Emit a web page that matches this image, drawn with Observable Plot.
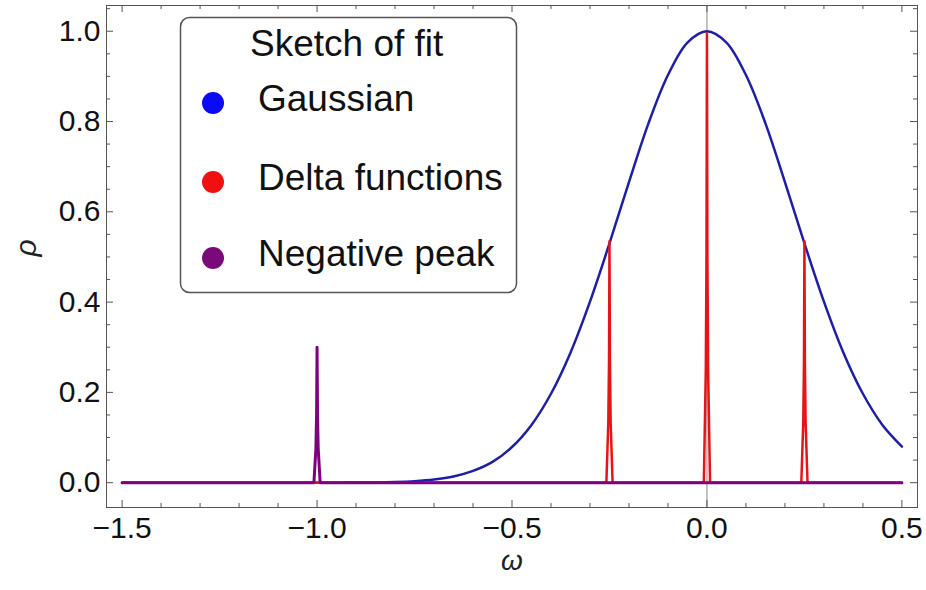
<!DOCTYPE html>
<html><head><meta charset="utf-8">
<script src="https://cdn.jsdelivr.net/npm/d3@7"></script>
<script src="https://cdn.jsdelivr.net/npm/@observablehq/plot@0.6"></script>
<style>
body{margin:0;background:#fff;}
#wrap{position:relative;width:926px;height:590px;}
#wrap svg{position:absolute;left:0;top:0;}
</style></head>
<body><div id="wrap"></div>
<script>
// ---- data ----
const gaussX = [-1.5,-1.45,-1.4,-1.35,-1.3,-1.25,-1.2,-1.15,-1.1,-1.05,-1.0,-0.95,-0.9,-0.85,-0.8,-0.75,-0.7,-0.65,-0.6,-0.55,-0.5,-0.45,-0.4,-0.35,-0.3,-0.25,-0.2,-0.15,-0.1,-0.05,0,0.05,0.1,0.15,0.2,0.25,0.3,0.35,0.4,0.45,0.5];
const gaussY = [0,0,0,0,0,0,0,0,0,0,0,0.0001,0.0003,0.0006,0.0015,0.0033,0.0069,0.0137,0.026,0.046,0.079,0.128,0.197,0.288,0.401,0.530,0.666,0.796,0.903,0.975,1.0,0.975,0.903,0.796,0.666,0.530,0.401,0.288,0.197,0.128,0.080];
const deltaCenters = [-0.25, 0, 0.25];
const deltaHeights = [0.535, 0.995, 0.535];
const negCenters = [-1.0];
const negHeights = [0.30];
const peakOffsets = [-0.008, -0.003, -0.0012, 0, 0.0012, 0.003, 0.008];
const peakFractions = [0, 0.25, 0.5, 1, 0.5, 0.25, 0];
const rangeX = [-1.5, 0.5];
const xMajor = [-1.5, -1.0, -0.5, 0.0, 0.5];
const xMinor = [-1.4,-1.3,-1.2,-1.1,-0.9,-0.8,-0.7,-0.6,-0.4,-0.3,-0.2,-0.1,0.1,0.2,0.3,0.4];
const yMajor = [0, 0.2, 0.4, 0.6, 0.8, 1.0];
const yMinor = [0.05,0.1,0.15,0.25,0.3,0.35,0.45,0.5,0.55,0.65,0.7,0.75,0.85,0.9,0.95,1.05];
const legendTitle = "Sketch of fit";
const legendLabels = ["Gaussian", "Delta functions", "Negative peak"];
const legendColors = ["#0a0af5", "#f01010", "#7a0a7a"];

// ---- build tables ----
const gauss = gaussX.map((x, i) => ({x, y: gaussY[i]}));
function spikes(centers, heights) {
  const pts = [{x: rangeX[0], y: 0}];
  centers.forEach((c, k) => peakOffsets.forEach((o, j) => pts.push({x: c + o, y: heights[k] * peakFractions[j]})));
  pts.push({x: rangeX[1], y: 0});
  return pts;
}
const red = spikes(deltaCenters, deltaHeights);
const purple = spikes(negCenters, negHeights);

const W = 926, H = 590, mL = 106, mR = 9, mT = 5, mB = 83;
const innerW = W - mL - mR, innerH = H - mT - mB;
const font = "'Liberation Sans', Arial, sans-serif";
const fmt = d3.format(".1f");
const tickColor = "#555";

const plot = Plot.plot({
  width: W, height: H,
  marginLeft: mL, marginRight: mR, marginTop: mT, marginBottom: mB,
  style: {fontFamily: font, background: "#fff"},
  x: {domain: [-1.54, 0.54], axis: null},
  y: {domain: [-0.055, 1.057], axis: null},
  marks: [
    Plot.ruleX([0], {stroke: "#8a8a8a", strokeWidth: 1}),
    // ticks (inward, on all four sides)
    Plot.ruleX(xMajor, {x: d => d, stroke: tickColor, insetTop: innerH - 7}),
    Plot.ruleX(xMajor, {x: d => d, stroke: tickColor, insetBottom: innerH - 7}),
    Plot.ruleX(xMinor, {x: d => d, stroke: tickColor, insetTop: innerH - 4}),
    Plot.ruleX(xMinor, {x: d => d, stroke: tickColor, insetBottom: innerH - 4}),
    Plot.ruleY(yMajor, {y: d => d, stroke: tickColor, insetRight: innerW - 7}),
    Plot.ruleY(yMajor, {y: d => d, stroke: tickColor, insetLeft: innerW - 7}),
    Plot.ruleY(yMinor, {y: d => d, stroke: tickColor, insetRight: innerW - 4}),
    Plot.ruleY(yMinor, {y: d => d, stroke: tickColor, insetLeft: innerW - 4}),
    // curves
    Plot.line(gauss, {x: "x", y: "y", stroke: "#1e1ea8", strokeWidth: 2.5, curve: "catmull-rom"}),
    Plot.line(red, {x: "x", y: "y", stroke: "#e61414", strokeWidth: 2.5}),
    Plot.line(purple, {x: "x", y: "y", stroke: "#800080", strokeWidth: 3}),
    Plot.frame({stroke: "#555", strokeWidth: 1}),
    // tick labels
    Plot.text(xMajor, {x: d => d, frameAnchor: "bottom", dy: 9, lineAnchor: "top", text: d => fmt(d), fontSize: 30, fill: "#111"}),
    Plot.text(yMajor, {y: d => d, frameAnchor: "left", dx: -6, textAnchor: "end", text: d => fmt(d), fontSize: 30, fill: "#111"}),
    // axis labels
    Plot.text(["ω"], {frameAnchor: "bottom", dy: 62, text: d => d, fontSize: 28, fontStyle: "italic", fill: "#222"}),
    Plot.text(["ρ"], {frameAnchor: "left", dx: -80, rotate: -90, text: d => d, fontSize: 30, fontStyle: "italic", fill: "#222"})
  ]
});

const wrap = document.getElementById("wrap");
wrap.appendChild(plot);

// legend overlay
const lg = d3.select(wrap).append("svg").attr("width", W).attr("height", H)
  .style("font-family", font).style("pointer-events", "none");
lg.append("rect").attr("x", 180.5).attr("y", 17.5).attr("width", 336).attr("height", 275)
  .attr("rx", 9).attr("fill", "#fff").attr("stroke", "#555").attr("stroke-width", 1.5);
lg.append("text").attr("x", 250).attr("y", 56).attr("font-size", 37).attr("fill", "#111").text(legendTitle);
const rowY = [103, 182, 258];
legendLabels.forEach((lab, i) => {
  lg.append("circle").attr("cx", 213).attr("cy", rowY[i]).attr("r", 11).attr("fill", legendColors[i]);
  lg.append("text").attr("x", 258).attr("y", rowY[i] + 8).attr("font-size", 37).attr("fill", "#111").text(lab);
});
</script>
</body></html>
